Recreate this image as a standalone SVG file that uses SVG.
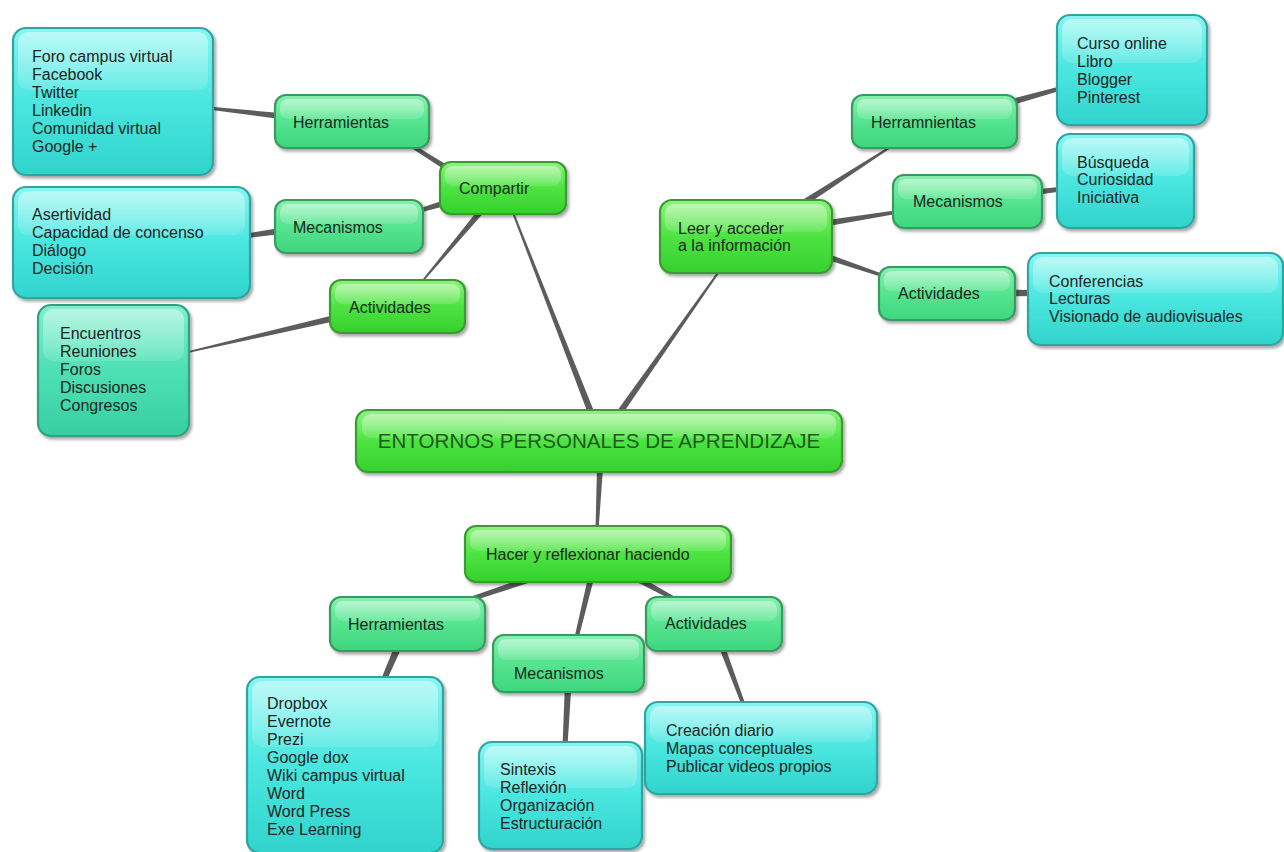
<svg xmlns="http://www.w3.org/2000/svg" width="1284" height="852" viewBox="0 0 1284 852">
<defs>
<linearGradient id="gGreen" x1="0" y1="0" x2="0" y2="1">
<stop offset="0" stop-color="#8ef37c"/><stop offset="0.5" stop-color="#4de442"/><stop offset="1" stop-color="#36d02d"/>
</linearGradient>
<linearGradient id="gMint" x1="0" y1="0" x2="0" y2="1">
<stop offset="0" stop-color="#86f2ae"/><stop offset="0.5" stop-color="#55e48f"/><stop offset="1" stop-color="#3fd67e"/>
</linearGradient>
<linearGradient id="gCyan" x1="0" y1="0" x2="0" y2="1">
<stop offset="0" stop-color="#86f6f2"/><stop offset="0.5" stop-color="#4ae6e0"/><stop offset="1" stop-color="#30d4cc"/>
</linearGradient>
<linearGradient id="gSea" x1="0" y1="0" x2="0" y2="1">
<stop offset="0" stop-color="#7ef0cc"/><stop offset="0.5" stop-color="#4ee0b4"/><stop offset="1" stop-color="#38cfa2"/>
</linearGradient>
<linearGradient id="gGloss" x1="0" y1="0" x2="0" y2="1">
<stop offset="0" stop-color="#ffffff" stop-opacity="0.45"/><stop offset="1" stop-color="#ffffff" stop-opacity="0.12"/>
</linearGradient>
<filter id="sh" x="-10%" y="-10%" width="125%" height="135%">
<feDropShadow dx="2" dy="2.5" stdDeviation="1.6" flood-color="#000" flood-opacity="0.35"/>
</filter>
<style>
.green{fill:url(#gGreen);stroke:#3a9a30;stroke-width:2.2;filter:url(#sh)}
.mint{fill:url(#gMint);stroke:#3a9a62;stroke-width:2.2;filter:url(#sh)}
.cyan{fill:url(#gCyan);stroke:#33a4a0;stroke-width:2.2;filter:url(#sh)}
.sea{fill:url(#gSea);stroke:#34a080;stroke-width:2.2;filter:url(#sh)}
.gloss{fill:url(#gGloss)}
text{font-family:"Liberation Sans",Arial,sans-serif;font-size:16px;fill:#1e2622}
.big{font-size:20.6px;fill:#1f5a1f}
.conn polygon{fill:#5c5c5c}
</style>
</defs>
<rect width="1284" height="852" fill="#ffffff"/>

<g id="connectors" class="conn">
<polygon points="594.98,413.84 512.93,209.64 511.07,210.36 589.02,416.16"/>
<polygon points="620.62,416.84 720.82,270.58 719.18,269.42 615.38,413.16"/>
<polygon points="597.00,467.86 595.50,529.93 598.50,530.07 603.00,468.14"/>
<polygon points="451.50,167.63 413.07,144.31 410.93,147.69 448.50,172.37"/>
<polygon points="444.20,200.32 417.37,208.89 418.63,213.11 445.80,205.68"/>
<polygon points="479.70,208.07 419.39,283.49 420.61,284.51 484.30,211.93"/>
<polygon points="280.33,113.02 208.17,106.51 207.83,109.49 279.67,118.98"/>
<polygon points="279.58,228.03 244.69,233.82 245.31,238.18 280.42,233.97"/>
<polygon points="334.28,314.88 183.82,352.22 184.18,353.78 335.72,321.12"/>
<polygon points="803.73,206.69 895.54,144.84 894.46,143.16 800.27,201.31"/>
<polygon points="828.47,225.96 897.28,213.78 896.72,210.22 827.53,220.04"/>
<polygon points="827.04,259.84 883.52,277.42 884.48,274.58 828.96,254.16"/>
<polygon points="1012.81,104.89 1062.54,89.93 1061.46,86.07 1011.19,99.11"/>
<polygon points="1037.33,194.78 1062.26,191.18 1061.74,186.82 1036.67,189.22"/>
<polygon points="1010,289.8 1033,290 1033,296 1010,296.2"/>
<polygon points="527.05,577.15 461.30,599.91 462.70,604.09 528.95,582.85"/>
<polygon points="588.08,577.29 574.06,639.53 577.94,640.47 593.92,578.71"/>
<polygon points="634.56,580.63 679.04,603.76 680.96,600.24 637.44,575.37"/>
<polygon points="394.78,645.62 380.43,680.90 385.57,683.10 401.22,648.38"/>
<polygon points="564.80,687.83 562.50,745.87 567.50,746.13 571.20,688.17"/>
<polygon points="719.19,648.05 742.31,706.63 745.69,705.37 724.81,645.95"/>
</g>

<g id="n-root">
<rect class="green" x="356" y="410" width="486" height="62" rx="12"/>
<rect class="gloss" x="362" y="414" width="474" height="24" rx="9"/>
<text class="big" x="599" y="448" text-anchor="middle">ENTORNOS PERSONALES DE APRENDIZAJE</text>
</g>

<g id="n-compartir">
<rect class="green" x="440" y="162" width="126" height="52" rx="11"/>
<rect class="gloss" x="445" y="166" width="116" height="20" rx="8"/>
<text x="459" y="193.5">Compartir</text>
</g>

<g id="n-herr-l">
<rect class="mint" x="275" y="95" width="154" height="53" rx="11"/>
<rect class="gloss" x="280" y="99" width="144" height="20" rx="8"/>
<text x="293" y="127.5">Herramientas</text>
</g>

<g id="n-foro">
<rect class="cyan" x="13" y="28" width="200" height="147" rx="13"/>
<rect class="gloss" x="18" y="32" width="190" height="58" rx="10"/>
<text x="32" y="61.5">Foro campus virtual<tspan x="32" dy="18">Facebook</tspan><tspan x="32" dy="18">Twitter</tspan><tspan x="32" dy="18">Linkedin</tspan><tspan x="32" dy="18">Comunidad virtual</tspan><tspan x="32" dy="18">Google +</tspan></text>
</g>

<g id="n-meca-l">
<rect class="mint" x="275" y="200" width="148" height="53" rx="11"/>
<rect class="gloss" x="280" y="204" width="138" height="20" rx="8"/>
<text x="293" y="232.5">Mecanismos</text>
</g>

<g id="n-asert">
<rect class="cyan" x="13" y="187" width="237" height="111" rx="13"/>
<rect class="gloss" x="18" y="191" width="227" height="44" rx="10"/>
<text x="32" y="219.5">Asertividad<tspan x="32" dy="18">Capacidad de concenso</tspan><tspan x="32" dy="18">Diálogo</tspan><tspan x="32" dy="18">Decisión</tspan></text>
</g>

<g id="n-acti-l">
<rect class="green" x="330" y="280" width="135" height="53" rx="11"/>
<rect class="gloss" x="335" y="284" width="125" height="20" rx="8"/>
<text x="349" y="312.5">Actividades</text>
</g>

<g id="n-encu">
<rect class="sea" x="38" y="305" width="151" height="131" rx="13"/>
<rect class="gloss" x="43" y="309" width="141" height="52" rx="10"/>
<text x="60" y="338.5">Encuentros<tspan x="60" dy="18">Reuniones</tspan><tspan x="60" dy="18">Foros</tspan><tspan x="60" dy="18">Discusiones</tspan><tspan x="60" dy="18">Congresos</tspan></text>
</g>

<g id="n-leer">
<rect class="green" x="660" y="200" width="172" height="73" rx="12"/>
<rect class="gloss" x="665" y="204" width="162" height="28" rx="9"/>
<text x="678" y="233.5">Leer y acceder<tspan x="678" dy="17.5">a la información</tspan></text>
</g>

<g id="n-herr-r">
<rect class="mint" x="852" y="95" width="165" height="53" rx="11"/>
<rect class="gloss" x="857" y="99" width="155" height="20" rx="8"/>
<text x="871" y="127.5">Herramnientas</text>
</g>

<g id="n-curso">
<rect class="cyan" x="1057" y="15" width="150" height="110" rx="13"/>
<rect class="gloss" x="1062" y="19" width="140" height="44" rx="10"/>
<text x="1077" y="48.5">Curso online<tspan x="1077" dy="18">Libro</tspan><tspan x="1077" dy="18">Blogger</tspan><tspan x="1077" dy="18">Pinterest</tspan></text>
</g>

<g id="n-meca-r">
<rect class="mint" x="893" y="175" width="149" height="53" rx="11"/>
<rect class="gloss" x="898" y="179" width="139" height="20" rx="8"/>
<text x="913" y="206.5">Mecanismos</text>
</g>

<g id="n-busq">
<rect class="cyan" x="1057" y="134" width="137" height="94" rx="13"/>
<rect class="gloss" x="1062" y="138" width="127" height="38" rx="10"/>
<text x="1077" y="167.5">Búsqueda<tspan x="1077" dy="17.5">Curiosidad</tspan><tspan x="1077" dy="17.5">Iniciativa</tspan></text>
</g>

<g id="n-acti-r">
<rect class="mint" x="879" y="267" width="136" height="53" rx="11"/>
<rect class="gloss" x="884" y="271" width="126" height="20" rx="8"/>
<text x="898" y="298.5">Actividades</text>
</g>

<g id="n-conf">
<rect class="cyan" x="1028" y="253" width="255" height="92" rx="13"/>
<rect class="gloss" x="1033" y="257" width="245" height="36" rx="10"/>
<text x="1049" y="286.5">Conferencias<tspan x="1049" dy="17.5">Lecturas</tspan><tspan x="1049" dy="17.5">Visionado de audiovisuales</tspan></text>
</g>

<g id="n-hacer">
<rect class="green" x="465" y="526" width="266" height="56" rx="11"/>
<rect class="gloss" x="470" y="530" width="256" height="21" rx="8"/>
<text x="486" y="559.5">Hacer y reflexionar haciendo</text>
</g>

<g id="n-herr-b">
<rect class="mint" x="330" y="597" width="155" height="54" rx="11"/>
<rect class="gloss" x="335" y="601" width="145" height="20" rx="8"/>
<text x="348" y="629.5">Herramientas</text>
</g>

<g id="n-drop">
<rect class="cyan" x="247" y="677" width="196" height="176" rx="13"/>
<rect class="gloss" x="252" y="681" width="186" height="66" rx="10"/>
<text x="267" y="708.5">Dropbox<tspan x="267" dy="18">Evernote</tspan><tspan x="267" dy="18">Prezi</tspan><tspan x="267" dy="18">Google dox</tspan><tspan x="267" dy="18">Wiki campus virtual</tspan><tspan x="267" dy="18">Word</tspan><tspan x="267" dy="18">Word Press</tspan><tspan x="267" dy="18">Exe Learning</tspan></text>
</g>

<g id="n-meca-b">
<rect class="mint" x="493" y="635" width="151" height="57" rx="11"/>
<rect class="gloss" x="498" y="639" width="141" height="21" rx="8"/>
<text x="514" y="678.5">Mecanismos</text>
</g>

<g id="n-sint">
<rect class="cyan" x="479" y="742" width="163" height="107" rx="13"/>
<rect class="gloss" x="484" y="746" width="153" height="42" rx="10"/>
<text x="500" y="774.5">Sintexis<tspan x="500" dy="18">Reflexión</tspan><tspan x="500" dy="18">Organización</tspan><tspan x="500" dy="18">Estructuración</tspan></text>
</g>

<g id="n-acti-b">
<rect class="mint" x="646" y="597" width="136" height="54" rx="11"/>
<rect class="gloss" x="651" y="601" width="126" height="20" rx="8"/>
<text x="665" y="628.5">Actividades</text>
</g>

<g id="n-crea">
<rect class="cyan" x="645" y="702" width="232" height="92" rx="13"/>
<rect class="gloss" x="650" y="706" width="222" height="36" rx="10"/>
<text x="666" y="735.5">Creación diario<tspan x="666" dy="18">Mapas conceptuales</tspan><tspan x="666" dy="18">Publicar videos propios</tspan></text>
</g>
</svg>
